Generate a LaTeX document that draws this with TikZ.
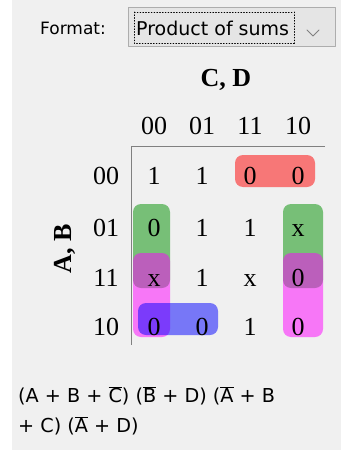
\documentclass[tikz,border=0pt]{standalone}
\usepackage{fontspec}
\newfontfamily\uifont{DejaVu Sans}
\newfontfamily\mapfont{Liberation Serif}
\definecolor{panel}{HTML}{F0F0F0}
\definecolor{combo}{HTML}{E5E5E5}
\definecolor{comboline}{HTML}{ADADAD}
\definecolor{grpred}{RGB}{255,0,0}
\definecolor{grpgreen}{RGB}{0,144,0}
\definecolor{grpmagenta}{RGB}{255,0,255}
\definecolor{grpblue}{RGB}{0,0,255}
\tikzset{
  ui/.style={font=\uifont\fontsize{17}{20}\selectfont, inner sep=0pt},
  result/.style={font=\uifont\fontsize{19.2}{21}\selectfont, inner sep=0pt, anchor=west},
  kmap/.style={font=\mapfont\fontsize{26}{28}\selectfont, inner sep=0pt, anchor=base},
  axislabel/.style={font=\mapfont\bfseries\fontsize{26}{28}\selectfont, inner sep=0pt},
  group/.style={rounded corners=8pt, fill opacity=0.5, draw=none}
}
\begin{document}
\begin{tikzpicture}[x=1pt, y=-1pt, line join=round, line cap=round]
    \fill[white] (0,0) rectangle (341,452);
    \fill[panel] (12,0) rectangle (341,450);
    \useasboundingbox (0,0) rectangle (341,452);
    % format selector
    \node[ui, anchor=west] (fmt) at (40,28) {Format:};
    \draw[comboline, fill=combo] (128,7) rectangle (335,46);
    \node[ui, anchor=west, font=\uifont\fontsize{19}{21}\selectfont] (pos) at (136,28) {Product of sums};
    \draw[dotted, line width=0.8pt] (134,12) rectangle (294,43);
    \draw[gray, line width=1pt] (307,30) -- (313,36) -- (319,30);
    % groupings
    \fill[group, grpred] (235,155) rectangle (315,187);
    \foreach \gx/\gw in {133/170, 283/323} {
        \fill[group, grpgreen] (\gx,204) rectangle (\gw,288);
        \fill[group, grpmagenta] (\gx,253) rectangle (\gw,337);
    }
    \fill[group, grpblue] (138,303) rectangle (218,335);
    % axes
    \draw[gray, line width=0.8pt, line cap=butt] (325,146) -- (131,146) -- (131,345);
    \node[axislabel] (cd) at (226,80) {C, D};
    \node[axislabel, rotate=90] (ab) at (65,249) {A, B};
    \foreach \lbl [count=\i] in {00,01,11,10} {
        \node[kmap] (col\i) at (106+48*\i,134) {\lbl};
    }
    \foreach \lbl/\ry in {00/175,01/227,11/277,10/326} {
        \node[kmap] (row\lbl) at (106,\ry+9) {\lbl};
    }
    % cell values
    \foreach \ry/\va/\vb/\vc/\vd in {175/1/1/0/0, 227/0/1/1/x, 277/x/1/x/0, 326/0/0/1/0} {
        \node[kmap] at (154,\ry+9) {\va};
        \node[kmap] at (202,\ry+9) {\vb};
        \node[kmap] at (250,\ry+9) {\vc};
        \node[kmap] at (298,\ry+9) {\vd};
    }
    % result
    \node[result] (expr1) at (18,396) {(A + B + $\overline{\mbox{C}}$) ($\overline{\mbox{B}}$ + D) ($\overline{\mbox{A}}$ + B};
    \node[result] (expr2) at (18,426) {+ C) ($\overline{\mbox{A}}$ + D)};
\end{tikzpicture}
\end{document}
